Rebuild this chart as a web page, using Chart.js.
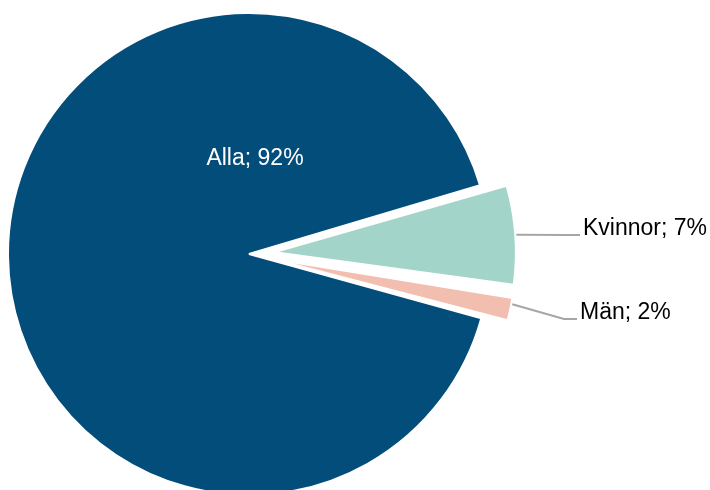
<!DOCTYPE html>
<html lang="sv">
<head>
<meta charset="utf-8">
<title>Alla, Kvinnor, Män</title>
<script src="https://cdn.jsdelivr.net/npm/chart.js@4/dist/chart.umd.min.js"></script>
<style>
  html, body { margin: 0; padding: 0; background: #ffffff; }
  #wrap { width: 710px; height: 490px; }
  canvas { display: block; }
</style>
</head>
<body>
<div id="wrap"><canvas id="chart" width="710" height="490"></canvas></div>
<script>
// Slice names and their shares (percent, as labelled)
const categories = ['Alla', 'Kvinnor', 'Män'];
const shares = [92, 7, 2];
const sliceColors = ['#034D7B', '#A3D4C9', '#F2BEAF'];
const explode = [0, 104, 104];

const FONT = '23px "Liberation Sans", Arial, sans-serif';

// Chart.js pushes exploded arcs out by offset/4 and also widens them;
// keep every slice on the same radius so the pie stays round.
const evenRadius = {
  id: 'evenRadius',
  afterDatasetUpdate(chart, args) {
    const meta = chart.getDatasetMeta(args.index);
    meta.data.forEach(arc => {
      const shift = (arc.options.offset || 0) / 4;
      const fix = 1 - Math.sin(Math.min(Math.PI, arc.circumference || 0));
      arc.outerRadius = arc.outerRadius - shift * fix;
      arc.$baseRadius = arc.outerRadius + shift * fix;
    });
  }
};

// Draws "Namn; NN%" labels, leader lines for the exploded slices
const sliceLabels = {
  id: 'sliceLabels',
  afterDatasetsDraw(chart, args, opts) {
    const ctx = chart.ctx;
    const meta = chart.getDatasetMeta(0);
    ctx.save();
    ctx.font = FONT;
    ctx.textBaseline = 'middle';
    meta.data.forEach((arc, i) => {
      const text = categories[i] + '; ' + shares[i] + '%';
      const place = opts.places[i];
      const mid = (arc.startAngle + arc.endAngle) / 2 + (place.tilt || 0);
      const shift = (arc.options.offset || 0) / 4;
      const cx = arc.x + Math.cos(mid) * shift;
      const cy = arc.y + Math.sin(mid) * shift;
      if (place.inside) {
        ctx.fillStyle = '#ffffff';
        ctx.textAlign = 'center';
        ctx.fillText(text, arc.x + place.dx, arc.y + place.dy);
        return;
      }
      const r = arc.$baseRadius || arc.outerRadius;
      const sx = cx + Math.cos(mid) * (r + 1);
      const sy = cy + Math.sin(mid) * (r + 1);
      const tx = arc.x + place.dx;
      const ty = arc.y + place.dy;
      ctx.strokeStyle = '#A6A6A6';
      ctx.lineWidth = 2;
      ctx.beginPath();
      ctx.moveTo(sx, sy);
      ctx.lineTo(tx - 16, ty + 6);
      ctx.lineTo(tx - 3, ty + 6);
      ctx.stroke();
      ctx.fillStyle = '#000000';
      ctx.textAlign = 'left';
      ctx.fillText(text, tx, ty);
    });
    ctx.restore();
  }
};

new Chart(document.getElementById('chart'), {
  type: 'pie',
  data: {
    labels: categories,
    datasets: [{
      data: shares,
      backgroundColor: sliceColors,
      borderColor: '#ffffff',
      borderWidth: 2,
      offset: explode,
      clip: false
    }]
  },
  options: {
    responsive: false,
    devicePixelRatio: 1,
    animation: false,
    rotation: 105.5,
    radius: 241,
    layout: { padding: { left: 0, right: 212, top: 18, bottom: 0 } },
    events: [],
    plugins: {
      legend: { display: false },
      tooltip: { enabled: false },
      sliceLabels: {
        places: [
          { inside: true, dx: 6, dy: -95 },
          { dx: 334, dy: -25 },
          { dx: 331, dy: 59, tilt: -0.02 }
        ]
      }
    }
  },
  plugins: [evenRadius, sliceLabels]
});
</script>
</body>
</html>
